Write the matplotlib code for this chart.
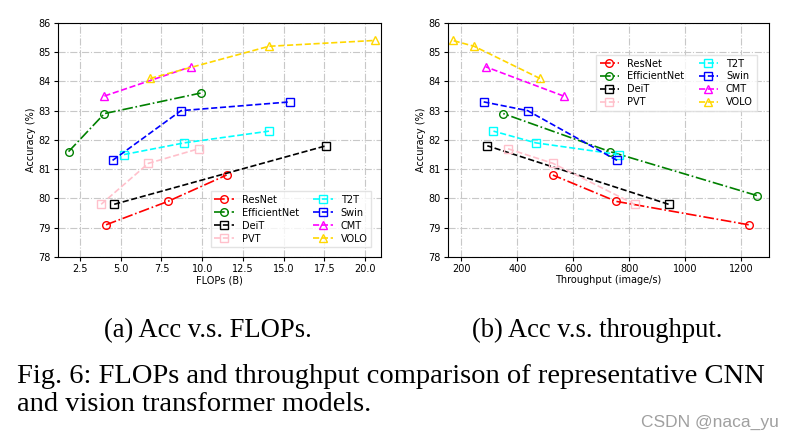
import matplotlib
matplotlib.use("Agg")
import matplotlib.pyplot as plt

# model names and styles
models = ["ResNet", "EfficientNet", "DeiT", "PVT", "T2T", "Swin", "CMT", "VOLO"]
colors = ["red", "green", "black", "pink", "cyan", "blue", "magenta", "gold"]
markers = ["o", "o", "s", "s", "s", "s", "^", "^"]
styles = ["-.", "-.", "--", "--", "--", "--", "--", "--"]

# (a) accuracy (%) vs FLOPs (B)
acc_resnet = [79.1, 79.9, 80.8]
acc_effnet = [81.6, 82.9, 83.6]
acc_deit = [79.8, 81.8]
acc_pvt = [79.8, 81.2, 81.7]
acc_t2t = [81.5, 81.9, 82.3]
acc_swin = [81.3, 83.0, 83.3]
acc_cmt = [83.5, 84.5]
acc_volo = [84.1, 85.2, 85.4]

flops_resnet = [4.1, 7.9, 11.5]
flops_effnet = [1.8, 4.0, 9.9]
flops_deit = [4.6, 17.6]
flops_pvt = [3.8, 6.7, 9.8]
flops_t2t = [5.2, 8.9, 14.1]
flops_swin = [4.5, 8.7, 15.4]
flops_cmt = [4.0, 9.3]
flops_volo = [6.8, 14.1, 20.6]

# (b) accuracy (%) vs throughput (image/s)
acc_effnet_b = [80.1, 81.6, 82.9]

tp_resnet = [1226, 753, 527]
tp_effnet = [1255, 731, 350]
tp_deit = [940, 293]
tp_pvt = [819, 527, 366]
tp_t2t = [763, 466, 315]
tp_swin = [756, 437, 280]
tp_cmt = [565, 287]
tp_volo = [481, 246, 169]

accs_a = [acc_resnet, acc_effnet, acc_deit, acc_pvt, acc_t2t, acc_swin, acc_cmt, acc_volo]
accs_b = [acc_resnet, acc_effnet_b, acc_deit, acc_pvt, acc_t2t, acc_swin, acc_cmt, acc_volo]
flops = [flops_resnet, flops_effnet, flops_deit, flops_pvt, flops_t2t, flops_swin, flops_cmt, flops_volo]
tps = [tp_resnet, tp_effnet, tp_deit, tp_pvt, tp_t2t, tp_swin, tp_cmt, tp_volo]

fig = plt.figure(figsize=(7.94, 4.40), dpi=100)
ax1 = fig.add_axes([0.073, 0.416, 0.407, 0.532])
ax2 = fig.add_axes([0.564, 0.416, 0.404, 0.532])

def draw(ax, xs, ys, xlim, xlabel, loc, anchor):
    for i in range(len(models)):
        ax.plot(xs[i], ys[i], color=colors[i], linestyle=styles[i], marker=markers[i],
                markerfacecolor="none", markersize=5.5, linewidth=1.2, label=models[i])
    ax.set_xlim(xlim)
    ax.set_ylim(78, 86)
    ax.set_xlabel(xlabel, fontsize=7, labelpad=1)
    ax.set_ylabel("Accuracy (%)", fontsize=7, labelpad=2)
    ax.tick_params(labelsize=7, length=3, pad=2)
    ax.grid(True, linestyle="-.", color="#c8c8c8", linewidth=0.8)
    ax.legend(loc=loc, bbox_to_anchor=anchor, ncol=2, fontsize=7, handlelength=2.0,
              columnspacing=1.5, labelspacing=0.3, borderpad=0.4, fancybox=False,
              edgecolor="#dddddd")

draw(ax1, flops, accs_a, (1.15, 20.98), "FLOPs (B)", "lower right", (0.985, 0.02))
draw(ax2, tps, accs_b, (152, 1297), "Throughput (image/s)", "upper right", (0.978, 0.885))

# captions
serif = ["Liberation Serif", "DejaVu Serif"]
fig.text(207.5 / 794, 1 - 337 / 440, "(a) Acc v.s. FLOPs.", ha="center", va="baseline",
         fontsize=19.2, family=serif)
fig.text(597 / 794, 1 - 337 / 440, "(b) Acc v.s. throughput.", ha="center", va="baseline",
         fontsize=19.2, family=serif)
fig.text(17 / 794, 1 - 383 / 440, "Fig. 6: FLOPs and throughput comparison of representative CNN",
         ha="left", va="baseline", fontsize=20.5, family=serif)
fig.text(17 / 794, 1 - 411 / 440, "and vision transformer models.",
         ha="left", va="baseline", fontsize=20.5, family=serif)
fig.text(779 / 794, 1 - 422 / 440, "CSDN @naca_yu", ha="right", va="center",
         fontsize=12.5, color="#a0a0a0", family=["Liberation Sans", "DejaVu Sans"])

fig.savefig("out.png", dpi=100)
